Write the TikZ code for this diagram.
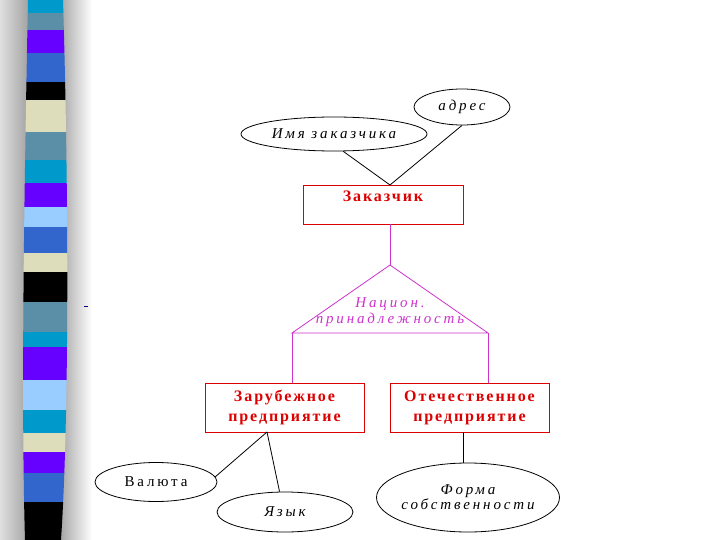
\documentclass[tikz,border=0pt]{standalone}
\usepackage{fontspec}
\usetikzlibrary{shapes.geometric}
\newfontfamily\titlef[LetterSpace=12]{Liberation Serif}
\newfontfamily\attrf[LetterSpace=19]{Liberation Serif}
\definecolor{scyan}{HTML}{0099CC}
\definecolor{ssteel}{HTML}{5B8FA8}
\definecolor{spurple}{HTML}{6600FF}
\definecolor{sroyal}{HTML}{3366CC}
\definecolor{sbeige}{HTML}{DDDDBB}
\definecolor{slight}{HTML}{99CCFF}
\definecolor{sblack}{HTML}{000000}
\definecolor{ered}{HTML}{DD0000}
\definecolor{emag}{HTML}{CC33CC}
\definecolor{dnavy}{HTML}{000080}
\tikzset{
  attr/.style={ellipse, draw=black, line width=0.8pt, inner sep=0pt,
    font=\attrf\itshape\fontsize{15}{15}\selectfont, align=center},
  entbox/.style={rectangle, draw=ered, line width=0.8pt, text=ered, inner sep=0pt,
    font=\titlef\bfseries\fontsize{16}{20}\selectfont, align=center},
  link/.style={draw=black, line width=0.8pt},
  mlink/.style={draw=emag, line width=0.8pt}
}
\begin{document}
\begin{tikzpicture}[x=1pt,y=-1pt]
\useasboundingbox (0,0) rectangle (720,540);
% side decoration
\shade[left color=gray!25, right color=gray!75] (0,0) rectangle (30,540);
\shade[left color=gray!70, right color=white] (60,0) rectangle (92,540);
\begin{scope}
\clip (28,0) .. controls (24,200) and (21,400) .. (25,540) -- (61,540)
      .. controls (69,420) and (69,200) .. (63,0) -- cycle;
\foreach \ya/\yb/\c in {0/13/scyan,13/30/ssteel,30/53/spurple,53/82/sroyal,82/100/sblack,
  100/132/sbeige,132/160/ssteel,160/183/scyan,183/207/spurple,207/227/slight,
  227/253/sroyal,253/272/sbeige,272/302/sblack,302/332/ssteel,332/347/scyan,
  347/380/spurple,380/410/slight,410/433/scyan,433/452/sbeige,452/473/spurple,
  473/502/sroyal,502/540/sblack}
  \fill[\c] (15,\ya) rectangle (75,\yb);
\end{scope}
\coordinate (dashA) at (84,306);
\coordinate (dashB) at (88,306);
\draw[dnavy, line width=1pt] (dashA) -- (dashB);

% attributes
\node[attr, minimum width=96pt, minimum height=36pt] (adres) at (462,107) {адрес};
\node[attr, minimum width=186pt, minimum height=34pt] (imya) at (334,134) {Имя заказчика};
\node[attr, font=\attrf\fontsize{15}{15}\selectfont, minimum width=122pt, minimum height=39pt] (valuta) at (156,482) {Валюта};
\node[attr, minimum width=136pt, minimum height=40pt] (yazyk) at (285,512) {Язык};
\node[attr, inner xsep=-5pt, minimum width=183pt, minimum height=69pt] (forma) at (468,497.5) {Форма\\собственности};

% entities
\node[entbox, minimum width=160pt, text height=17pt, text depth=22pt, inner ysep=0pt] (zak) at (383,204.5) {Заказчик};
\node[entbox, minimum width=159pt, minimum height=49pt] (zar) at (284.5,407.5) {Зарубежное\\предприятие};
\node[entbox, minimum width=159pt, minimum height=49pt] (otech) at (469.5,407.5) {Отечественное\\предприятие};

% relationship triangle
\coordinate (ztop) at (390,185);
\coordinate (zbot) at (390,224);
\coordinate (apex) at (390,265);
\coordinate (bl) at (292,333);
\coordinate (br) at (488,333);
\draw[mlink] (zbot) -- (apex);
\draw[mlink] (apex) -- (bl) -- (br) -- cycle;
\draw[mlink] (bl) -- (bl |- zar.north);
\draw[mlink] (br) -- (br |- otech.north);
\node[text=emag, font=\attrf\itshape\fontsize{15}{16}\selectfont, align=center, inner sep=0pt] (nac) at (390,312) {Национ.\\принадлежность};

% attribute links
\draw[link] (imya.-62) -- (ztop);
\draw[link] (adres.south) -- (ztop);
\coordinate (zb) at (267,432);
\draw[link] (zb) -- (valuta.5);
\draw[link] (zb) -- (yazyk.105);
\coordinate (ot) at (463,432);
\draw[link] (ot) -- (forma.north -| ot);
\end{tikzpicture}
\end{document}
